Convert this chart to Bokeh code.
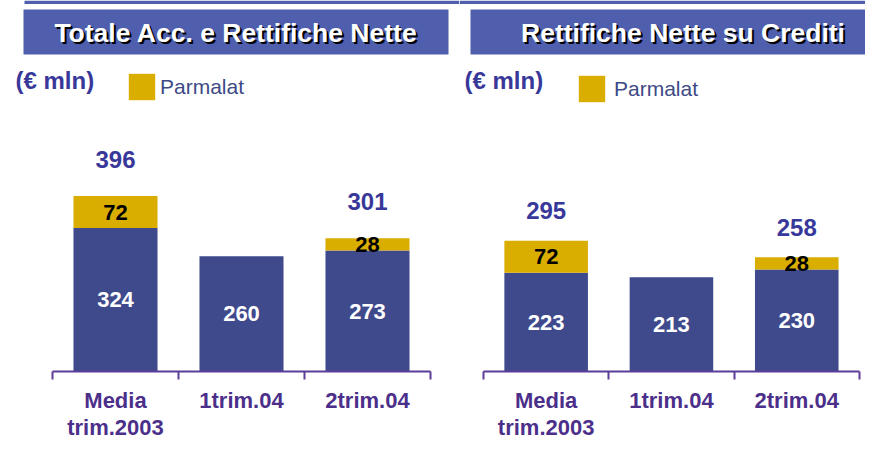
from bokeh.plotting import figure
from bokeh.models import (ColumnDataSource, Range1d, LinearAxis, FixedTicker, Label,
                          BoxAnnotation, Legend, LegendItem)
from bokeh.layouts import row
from bokeh.embed import file_html
from bokeh.resources import INLINE
from bokeh.core.properties import value

# ---------------- data ----------------
categories = ["Media\ntrim.2003", "1trim.04", "2trim.04"]
totale_base = [324, 260, 273]
totale_parmalat = [72, 0, 28]
crediti_base = [223, 213, 230]
crediti_parmalat = [72, 0, 28]
panel_titles = ["Totale Acc. e Rettifiche Nette", "Rettifiche Nette su Crediti"]
unit_text = "(€ mln)"
legend_text = "Parmalat"

# ---------------- style ----------------
HEADER_BLUE = "#4F5FAD"
BAR_BLUE = "#3F4A8C"
BAR_GOLD = "#D9AE00"
TEXT_BLUE = "#38389A"
LEGEND_TEXT = "#3D4A86"
CAT_PURPLE = "#4B2F8A"
AXIS_PURPLE = "#5A3D9A"
SANS = "Liberation Sans"

FIG_H = 442
BASE_PY = 371          # baseline, px from figure top
PX_PER_UNIT = 0.443


def panel(title, base, parm, width, tick0, tick_w, hdr_left, hdr_right, strip_left, title_cx,
          unit_x, leg_x, leg_top, leg_standoff, total_off):
    def xd(px):
        return (px - tick0) / tick_w

    def yd(py):
        return (BASE_PY - py) / PX_PER_UNIT

    p = figure(width=width, height=FIG_H,
               x_range=Range1d(xd(0), xd(width)), y_range=Range1d(yd(FIG_H), yd(0)),
               x_axis_type=None, y_axis_type=None, min_border=0,
               outline_line_color=None, toolbar_location=None, output_backend="svg",
               background_fill_color="white", border_fill_color="white")

    n = len(categories)
    xs = [i + 0.5 for i in range(n)]
    src = ColumnDataSource(dict(x=xs, base=base, parm=parm))
    rs = p.vbar_stack(["base", "parm"], x="x", width=0.667, source=src,
                      fill_color=[BAR_BLUE, BAR_GOLD], line_color=None)

    # value labels inside the blue segment
    p.text(x="x", y="y", text="t",
           source=ColumnDataSource(dict(x=xs, y=[b / 2 for b in base], t=[str(b) for b in base])),
           text_color="white", text_font=value(SANS), text_font_style="bold",
           text_font_size="22px", text_align="center", text_baseline="middle")

    idx = [i for i in range(n) if parm[i] > 0]
    p.text(x="x", y="y", text="t",
           source=ColumnDataSource(dict(x=[xs[i] for i in idx],
                                        y=[base[i] + parm[i] / 2 for i in idx],
                                        t=[str(parm[i]) for i in idx])),
           text_color="black", text_font=value(SANS), text_font_style="bold",
           text_font_size="22px", text_align="center", text_baseline="middle")

    p.text(x="x", y="y", text="t",
           source=ColumnDataSource(dict(x=[xs[i] for i in idx],
                                        y=[base[i] + parm[i] for i in idx],
                                        t=[str(base[i] + parm[i]) for i in idx])),
           y_offset=-total_off,
           text_color=TEXT_BLUE, text_font=value(SANS), text_font_style="bold",
           text_font_size="24px", text_align="center", text_baseline="middle")

    # thin top strip, header box and title with shadow
    p.add_layout(BoxAnnotation(left=xd(strip_left), right=xd(width), top=yd(0), bottom=yd(3.5),
                               fill_color=HEADER_BLUE, fill_alpha=1, line_color=None))
    p.add_layout(BoxAnnotation(left=xd(hdr_left), right=xd(hdr_right), top=yd(9), bottom=yd(54),
                               fill_color=HEADER_BLUE, fill_alpha=1, line_color=None))
    p.add_layout(Label(x=xd(title_cx), y=yd(32), text=title, x_offset=2, y_offset=-2,
                       text_color="black", text_font=SANS, text_font_style="bold",
                       text_font_size="26.5px", text_align="center", text_baseline="middle"))
    p.add_layout(Label(x=xd(title_cx), y=yd(32), text=title,
                       text_color="white", text_font=SANS, text_font_style="bold",
                       text_font_size="26.5px", text_align="center", text_baseline="middle"))

    # unit label
    p.add_layout(Label(x=xd(unit_x), y=yd(80), text=unit_text,
                       text_color=TEXT_BLUE, text_font=SANS, text_font_style="bold",
                       text_font_size="24px", text_align="left", text_baseline="middle"))

    # legend (glyph area is drawn with a 10% inset)
    legend = Legend(items=[LegendItem(label=legend_text, renderers=[rs[1]])],
                    location=(leg_x, FIG_H - leg_top - 33),
                    glyph_width=33, glyph_height=33, label_standoff=leg_standoff, label_height=33,
                    padding=0, margin=0, spacing=0, border_line_color=None,
                    background_fill_alpha=0, label_text_font=SANS,
                    label_text_font_size="21px", label_text_color=LEGEND_TEXT)
    p.add_layout(legend)

    # category axis at the baseline
    ax = LinearAxis(fixed_location=0, bounds=(0, n),
                    ticker=FixedTicker(ticks=xs, minor_ticks=list(range(n + 1))),
                    major_label_overrides={x: c for x, c in zip(xs, categories)})
    ax.axis_line_color = AXIS_PURPLE
    ax.axis_line_width = 2
    ax.major_tick_line_color = None
    ax.major_tick_out = 0
    ax.major_tick_in = 0
    ax.minor_tick_line_color = AXIS_PURPLE
    ax.minor_tick_line_width = 2
    ax.minor_tick_out = 8
    ax.minor_tick_in = 0
    ax.major_label_text_font = SANS
    ax.major_label_text_font_style = "bold"
    ax.major_label_text_font_size = "22px"
    ax.major_label_text_color = CAT_PURPLE
    ax.major_label_text_line_height = 1.1
    ax.major_label_standoff = 8
    p.add_layout(ax, "below")
    return p


p1 = panel(panel_titles[0], totale_base, totale_parmalat, width=459, tick0=52, tick_w=126,
           hdr_left=23, hdr_right=448, strip_left=24, title_cx=235.5, unit_x=15,
           leg_x=125, leg_top=70, leg_standoff=2, total_off=37)
p2 = panel(panel_titles[1], crediti_base, crediti_parmalat, width=406, tick0=24, tick_w=125.3,
           hdr_left=11, hdr_right=406, strip_left=0, title_cx=223.5, unit_x=5,
           leg_x=116, leg_top=72, leg_standoff=6, total_off=30)

layout = row(p1, p2)
open("out.html", "w").write(file_html(layout, INLINE))
